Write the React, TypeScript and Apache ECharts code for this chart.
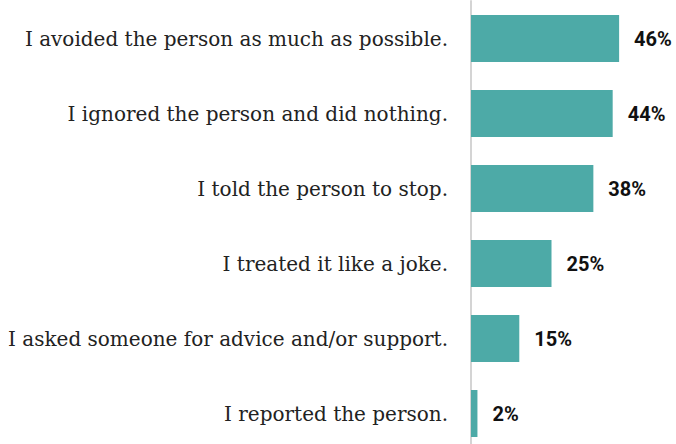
import React, { useEffect, useRef } from "react";
import * as echarts from "echarts";

const categories = [
  "I avoided the person as much as possible.",
  "I ignored the person and did nothing.",
  "I told the person to stop.",
  "I treated it like a joke.",
  "I asked someone for advice and/or support.",
  "I reported the person.",
];
const values = [46, 44, 38, 25, 15, 2];

export default function App() {
  const ref = useRef<HTMLDivElement>(null);
  useEffect(() => {
    if (!ref.current) return;
    const chart = echarts.init(ref.current, null, { renderer: "svg" });
    chart.setOption({
      animation: false,
      backgroundColor: "#ffffff",
      grid: {
        left: 471,
        top: 1,
        width: 161,
        height: 450,
        containLabel: false,
        outerBoundsMode: "none",
      },
      xAxis: {
        type: "value",
        min: 0,
        max: 50,
        show: false,
      },
      yAxis: {
        type: "category",
        data: categories,
        inverse: true,
        axisLine: { show: true, lineStyle: { color: "#d4d4d4", width: 2 } },
        axisTick: { show: false },
        axisLabel: {
          margin: 23,
          fontSize: 20,
          fontFamily: "'Roboto Slab', 'DejaVu Serif', serif",
          color: "#222222",
        },
      },
      series: [
        {
          type: "bar",
          data: values,
          barWidth: 47,
          itemStyle: { color: "#4DAAA7" },
          label: {
            show: true,
            position: "right",
            distance: 15,
            formatter: "{c}%",
            fontSize: 20,
            fontWeight: "bold",
            fontFamily: "Roboto, 'Noto Sans', sans-serif",
            color: "#111111",
          },
        },
      ],
    });
    return () => chart.dispose();
  }, []);
  return (
    <div
      ref={ref}
      style={{ position: "fixed", left: 0, top: 0, width: 676, height: 452 }}
    />
  );
}
